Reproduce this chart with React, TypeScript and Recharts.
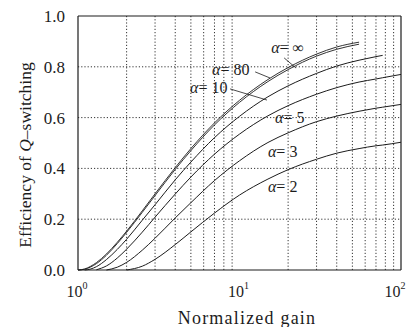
import React from 'react';
import { LineChart, Line, XAxis, YAxis, ReferenceLine, ReferenceDot, Label } from 'recharts';

// Normalized gain samples (x, log axis)
const gain = [1, 1.1, 1.2, 1.3, 1.5, 1.75, 2, 2.5, 3, 4, 5, 7, 10, 15, 20, 30, 40, 55, 70, 77, 100];

// Efficiency of Q-switching for each alpha
const effInf = [0, 0.004, 0.015, 0.029, 0.063, 0.109, 0.153, 0.233, 0.3, 0.403, 0.478, 0.579, 0.668, 0.75, 0.797, 0.85, 0.878, 0.897, null, null, null];
const eff80 = [0, 0.003, 0.012, 0.025, 0.058, 0.104, 0.148, 0.227, 0.293, 0.396, 0.47, 0.571, 0.66, 0.742, 0.789, 0.842, 0.869, 0.889, null, null, null];
const eff10 = [null, 0, 0.004, 0.013, 0.041, 0.081, 0.121, 0.196, 0.257, 0.355, 0.425, 0.521, 0.605, 0.682, 0.725, 0.774, 0.803, 0.826, 0.84, 0.845, null];
const eff5 = [null, null, null, 0.001, 0.016, 0.047, 0.082, 0.149, 0.208, 0.299, 0.366, 0.456, 0.535, 0.607, 0.647, 0.692, 0.718, 0.74, 0.752, 0.757, 0.77];
const eff3 = [null, null, null, null, 0, 0.011, 0.03, 0.078, 0.125, 0.205, 0.265, 0.352, 0.43, 0.502, 0.54, 0.584, 0.606, 0.625, 0.637, 0.641, 0.652];
const eff2 = [null, null, null, null, null, null, 0, 0.015, 0.042, 0.1, 0.15, 0.224, 0.295, 0.358, 0.395, 0.436, 0.46, 0.478, 0.489, 0.492, 0.503];

const seriesKeys = ['inf', 'a80', 'a10', 'a5', 'a3', 'a2'];
const seriesValues = [effInf, eff80, eff10, eff5, eff3, eff2];

// Grid & ticks
const gridGains = [2, 3, 4, 5, 6, 7, 8, 9, 20, 30, 40, 50, 60, 70, 80, 90];
const gridEffs = [0.2, 0.4, 0.6, 0.8];
const xTicks = [1, 10, 100];
const yTicks = [0, 0.2, 0.4, 0.6, 0.8, 1.0];

// Curve labels (text start, baseline) in data coordinates
const labelNames = ['\u221e', '80', '10', '5', '3', '2'];
const labelGain = [15.7, 6.76, 4.94, 16.6, 15.0, 15.0];
const labelEff = [0.854, 0.768, 0.697, 0.579, 0.445, 0.307];

// Leader lines for the top three labels
const leaderGainFrom = [18.9, 12.5, 8.74];
const leaderEffFrom = [0.835, 0.78, 0.713];
const leaderGainTo = [22.4, 15.45, 14.8];
const leaderEffTo = [0.795, 0.756, 0.669];

const data = gain.map((g, i) => {
  const row: any = { gain: g };
  seriesKeys.forEach((k, j) => {
    row[k] = seriesValues[j][i];
  });
  return row;
});

const INK = '#1c1c1c';
const SERIF = '"Liberation Serif", "DejaVu Serif", serif';

function PowTick(props: any) {
  const { x, y, payload } = props;
  const exp = String(Math.round(Math.log10(payload.value)));
  return (
    <text x={x - 1} y={y + 27} textAnchor="middle" fontFamily={SERIF} fontSize={16} fill={INK}>
      <tspan>10</tspan>
      <tspan dy={-8} fontSize={10}>{exp}</tspan>
    </text>
  );
}

export default function App() {
  return (
    <div style={{ position: 'absolute', left: 0, top: 0, background: '#fff' }}>
      <LineChart width={408} height={327} data={data} margin={{ top: 16, right: 7, bottom: 0, left: 0 }}>
        <XAxis
          dataKey="gain"
          type="number"
          scale="log"
          domain={[1, 100]}
          ticks={xTicks}
          allowDataOverflow
          tick={<PowTick />}
          tickLine={false}
          tickSize={0}
          tickMargin={0}
          height={57}
          axisLine={{ stroke: INK, strokeWidth: 1.2 }}
        >
          <Label
            content={() => (
              <text x={247} y={324} textAnchor="middle" fontFamily={SERIF} fontSize={18} letterSpacing={1.2} fill={INK}>
                Normalized gain
              </text>
            )}
          />
        </XAxis>
        <YAxis
          type="number"
          domain={[0, 1]}
          ticks={yTicks}
          tickFormatter={(v: number) => v.toFixed(1)}
          width={78}
          tickLine={false}
          tickSize={0}
          tickMargin={13}
          tick={{ fontFamily: SERIF, fontSize: 17, fill: INK }}
          axisLine={{ stroke: INK, strokeWidth: 1.2 }}
        >
          <Label
            content={() => (
              <text
                x={31}
                y={155}
                transform="rotate(-90, 31, 155)"
                textAnchor="middle"
                fontFamily={SERIF}
                fontSize={17.5}
                fill={INK}
              >
                Efficiency of <tspan fontStyle="italic">Q</tspan>–switching
              </text>
            )}
          />
        </YAxis>

        {gridGains.map((g) => (
          <ReferenceLine key={'gx' + g} x={g} stroke="#333" strokeWidth={1} strokeDasharray="1.2 2" />
        ))}
        {gridEffs.map((e) => (
          <ReferenceLine key={'gy' + e} y={e} stroke="#333" strokeWidth={1} strokeDasharray="1.2 2" />
        ))}
        <ReferenceLine y={1} stroke={INK} strokeWidth={1.2} />
        <ReferenceLine x={100} stroke={INK} strokeWidth={1.2} />

        {seriesKeys.map((k) => (
          <Line
            key={k}
            dataKey={k}
            type="monotone"
            stroke={INK}
            strokeWidth={k === 'inf' || k === 'a80' ? 0.9 : 1}
            dot={false}
            connectNulls={false}
            isAnimationActive={false}
          />
        ))}

        {leaderGainFrom.map((g, i) => (
          <ReferenceLine
            key={'ld' + i}
            segment={[
              { x: g, y: leaderEffFrom[i] },
              { x: leaderGainTo[i], y: leaderEffTo[i] },
            ]}
            stroke={INK}
            strokeWidth={0.8}
          />
        ))}

        {labelNames.map((n, i) => (
          <ReferenceDot
            key={'lb' + i}
            x={labelGain[i]}
            y={labelEff[i]}
            r={0}
            shape={(p: any) => (
              <text x={p.cx} y={p.cy} fontFamily={SERIF} fontSize={16} fill={INK}>
                <tspan fontStyle="italic">α</tspan>= {n}
              </text>
            )}
          />
        ))}
      </LineChart>
    </div>
  );
}
